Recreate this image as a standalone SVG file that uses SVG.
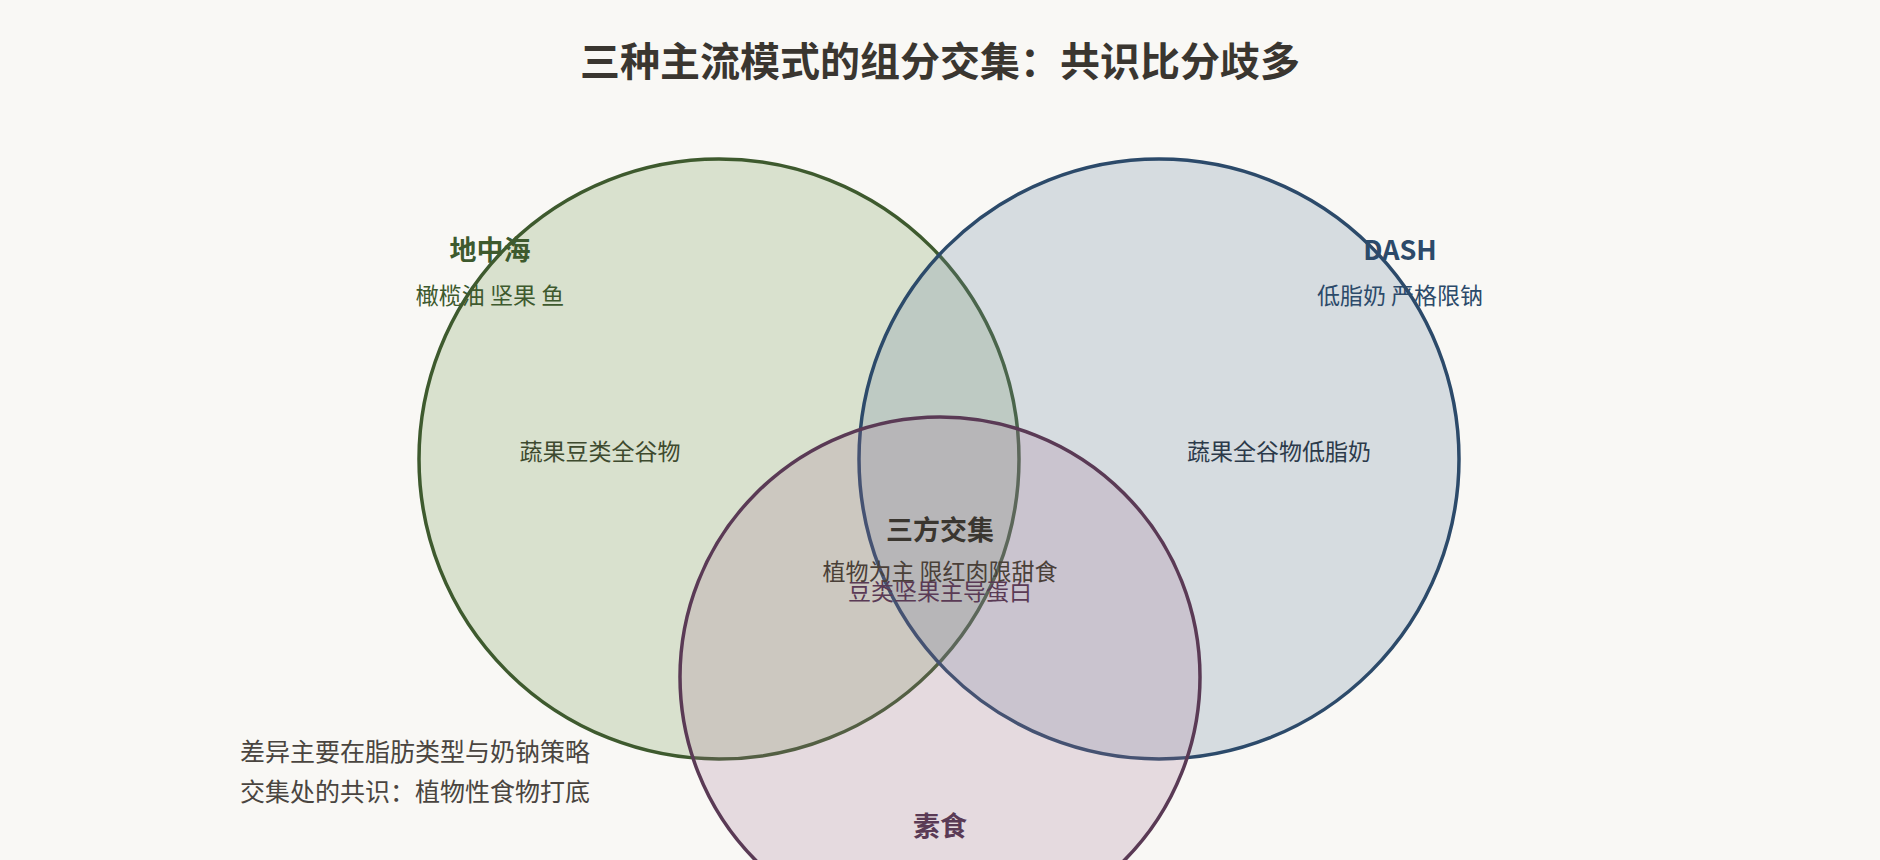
<svg xmlns="http://www.w3.org/2000/svg" width="1880" height="860" viewBox="0 0 1880 860">
<style>
text{font-family:"Noto Sans CJK SC","Noto Sans",sans-serif;text-anchor:middle}
.t{font-size:40px;font-weight:bold;fill:#3a3630}
.h{font-size:27px;font-weight:bold}
.s{font-size:23px}
.n{font-size:25px;fill:#4a4540;text-anchor:start}
circle{stroke-width:3.5}
</style>
<rect width="1880" height="860" fill="#f9f8f5"/>
<text class="t" x="940" y="76">三种主流模式的组分交集：共识比分歧多</text>
<g id="mediterranean"><circle cx="719" cy="459" r="300" fill="#7d9a5a" fill-opacity="0.25" stroke="#3e5a2e"/></g>
<g id="dash"><circle cx="1159" cy="459" r="300" fill="#6f87a3" fill-opacity="0.25" stroke="#2c4a6a"/></g>
<g id="vegetarian"><circle cx="940" cy="677" r="260" fill="#a07090" fill-opacity="0.22" stroke="#5a3a55"/></g>
<g id="labels">
<text class="h" x="490" y="260" fill="#3e5a2e">地中海</text>
<text class="s" x="490" y="304" fill="#3e5a2e">橄榄油 坚果 鱼</text>
<text class="h" x="1400" y="260" fill="#2c4a6a">DASH</text>
<text class="s" x="1400" y="304" fill="#2c4a6a">低脂奶 严格限钠</text>
<text class="s" x="600" y="460" fill="#3e4a2e">蔬果豆类全谷物</text>
<text class="s" x="1279" y="460" fill="#2c3a4a">蔬果全谷物低脂奶</text>
<text class="h" x="940" y="540" fill="#3a3630">三方交集</text>
<text class="s" x="940" y="580" fill="#4a4038">植物为主 限红肉限甜食</text>
<text class="s" x="940" y="600" fill="#5a3a55">豆类坚果主导蛋白</text>
<text class="h" x="940" y="836" fill="#5a3a55">素食</text>
<text class="n" x="240" y="761">差异主要在脂肪类型与奶钠策略</text>
<text class="n" x="240" y="801">交集处的共识：植物性食物打底</text>
</g>
</svg>
